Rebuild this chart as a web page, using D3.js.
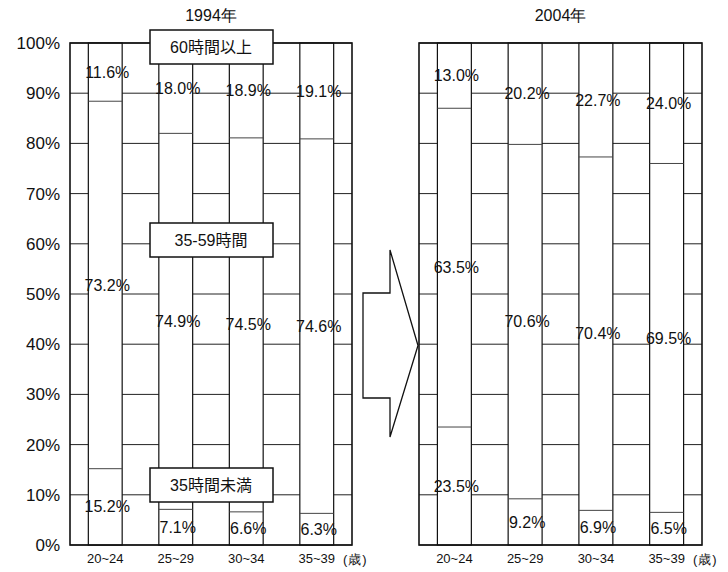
<!DOCTYPE html>
<html><head><meta charset="utf-8">
<script src="https://cdn.jsdelivr.net/npm/d3@7"></script>
<style>body{margin:0;background:#fff}svg{display:block}text{font-family:"Liberation Sans",Arial,sans-serif;fill:#111}</style>
</head><body>
<svg id="c" width="728" height="572"></svg>
<script>
const categories = ["20~24", "25~29", "30~34", "35~39"];
const seriesNames = ["35時間未満", "35-59時間", "60時間以上"];
const years = ["1994年", "2004年"];
const under35_1994 = [15.2, 7.1, 6.6, 6.3];
const mid_1994 = [73.2, 74.9, 74.5, 74.6];
const over60_1994 = [11.6, 18.0, 18.9, 19.1];
const under35_2004 = [23.5, 9.2, 6.9, 6.5];
const mid_2004 = [63.5, 70.6, 70.4, 69.5];
const over60_2004 = [13.0, 20.2, 22.7, 24.0];
const yTicks = [0, 10, 20, 30, 40, 50, 60, 70, 80, 90, 100];
const unitLabel = "(歳)";

const svg = d3.select("#c");
const y = d3.scaleLinear().domain([0, 100]).range([545, 43]);

const panels = [
  {year: years[0], x0: 70, x1: 352, series: [under35_1994, mid_1994, over60_1994], yAxis: true},
  {year: years[1], x0: 419, x1: 702, series: [under35_2004, mid_2004, over60_2004], yAxis: false}
];

panels.forEach(p => {
  const g = svg.append("g");
  const x = d3.scaleBand().domain(categories).range([p.x0, p.x1]).paddingInner(0.52).paddingOuter(0.26);
  // gridlines
  g.selectAll("line.grid").data(yTicks).join("line")
    .attr("x1", p.x0).attr("x2", p.x1)
    .attr("y1", d => y(d)).attr("y2", d => y(d))
    .attr("stroke", "#222").attr("stroke-width", 1);
  // stacked data
  const rows = categories.map((c, i) => {
    let acc = 0;
    return p.series.map((s, k) => { const v = s[i]; const r = {c, k, v, y0: acc, y1: acc + v}; acc += v; return r; });
  });
  const segs = rows.flat();
  g.selectAll("rect.bar").data(categories).join("rect")
    .attr("x", d => x(d)).attr("width", x.bandwidth())
    .attr("y", y(100)).attr("height", y(0) - y(100))
    .attr("fill", "#fff").attr("stroke", "#111").attr("stroke-width", 1.2);
  g.selectAll("line.seg").data(segs.filter(s => s.k > 0)).join("line")
    .attr("x1", d => x(d.c)).attr("x2", d => x(d.c) + x.bandwidth())
    .attr("y1", d => y(d.y0)).attr("y2", d => y(d.y0))
    .attr("stroke", "#444").attr("stroke-width", 1);
  // frame
  g.append("rect").attr("x", p.x0).attr("y", y(100)).attr("width", p.x1 - p.x0).attr("height", y(0) - y(100))
    .attr("fill", "none").attr("stroke", "#111").attr("stroke-width", 1.6);
  // labels
  g.selectAll("text.val").data(segs).join("text")
    .attr("x", d => x(d.c) + x.bandwidth() / 2 + 2)
    .attr("y", d => y((d.y0 + d.y1) / 2))
    .attr("dy", "0.35em").attr("text-anchor", "middle")
    .style("font-size", "16px")
    .text(d => d.v.toFixed(1) + "%");
  // x axis
  const xa = g.append("g").attr("transform", `translate(0,${y(0)})`)
    .call(d3.axisBottom(x).tickSize(0).tickPadding(9));
  xa.select(".domain").remove();
  xa.selectAll("text").style("font-size", "13px").style("font-family", "'Liberation Sans',Arial,sans-serif").attr("fill", "#111");
  g.append("text").attr("x", p.x1 - 9).attr("y", y(0) + 14).attr("dy", "0.35em")
    .style("font-size", "13px").style("letter-spacing", "1px").text(unitLabel);
  // title
  g.append("text").attr("x", (p.x0 + p.x1) / 2).attr("y", 15).attr("dy", "0.35em")
    .attr("text-anchor", "middle").style("font-size", "16px").text(p.year);
  if (p.yAxis) {
    const ya = g.append("g").attr("transform", `translate(${p.x0},0)`)
      .call(d3.axisLeft(y).tickValues(yTicks).tickFormat(d => d + "%").tickSize(0).tickPadding(10));
    ya.select(".domain").remove();
    ya.selectAll("text").style("font-size", "17px").style("font-family", "'Liberation Sans',Arial,sans-serif").attr("fill", "#111");
    // legend boxes
    const legendPos = [485, 240, 47];
    seriesNames.forEach((n, k) => {
      const cx = (p.x0 + p.x1) / 2, cy = legendPos[k];
      g.append("rect").attr("x", cx - 61).attr("y", cy - 17).attr("width", 123).attr("height", 34)
        .attr("fill", "#fff").attr("stroke", "#111").attr("stroke-width", 1.5);
      g.append("text").attr("x", cx).attr("y", cy).attr("dy", "0.35em").attr("text-anchor", "middle")
        .style("font-size", "16px").style("font-family", "'Liberation Sans','Noto Sans CJK JP',sans-serif").text(n);
    });
  }
});

// arrow between panels
const arrow = [[363, 293], [390, 293], [390, 250], [418, 345.5], [390, 437], [390, 398], [363, 398]];
svg.append("path").attr("d", d3.line()(arrow) + "Z")
  .attr("fill", "#fff").attr("stroke", "#111").attr("stroke-width", 1.3);
</script>
</body></html>
